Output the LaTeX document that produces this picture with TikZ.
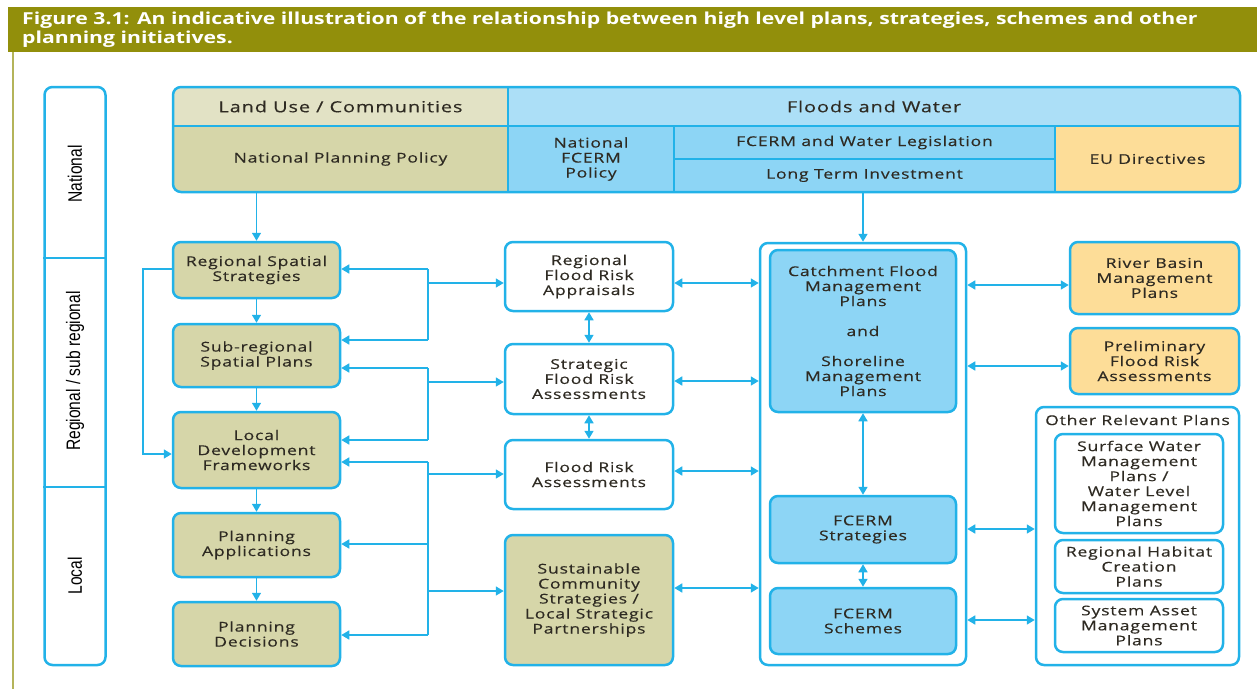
\documentclass[tikz,border=0pt]{standalone}
\usepackage{fontspec}
\usetikzlibrary{arrows.meta,calc}
\newfontfamily\boxfont{Open Sans}[FakeStretch=1.3,LetterSpace=6,FakeBold=0.4]
\newfontfamily\titlefont{Open Sans}[FakeStretch=1.285]
\newfontfamily\lvlfont{Liberation Sans}[FakeStretch=0.8]
\definecolor{cy}{HTML}{22B2E8}
\definecolor{olv}{HTML}{D6D6A9}
\definecolor{lolv}{HTML}{E2E2C5}
\definecolor{lblu}{HTML}{ACDFF7}
\definecolor{mblu}{HTML}{8DD5F5}
\definecolor{orng}{HTML}{FDDD98}
\definecolor{band}{HTML}{928F0B}
\definecolor{bandline}{HTML}{B4B45A}
\definecolor{txt}{HTML}{2E2A22}
\tikzset{
  bx/.style={draw=cy, line width=2.5pt, rounded corners=8pt, align=center, inner sep=0pt, text=txt,
     font=\boxfont\fontsize{13.5}{15}\selectfont},
  olbox/.style={bx, fill=olv},
  whbox/.style={bx, fill=white},
  blbox/.style={bx, fill=mblu},
  orbox/.style={bx, fill=orng},
  cell/.style={draw=cy, line width=2.5pt, align=center, inner sep=0pt, text=txt,
     font=\boxfont\fontsize{13.5}{15}\selectfont},
  hcell/.style={cell, font=\boxfont\fontsize{15.3}{17}\selectfont},
  ln/.style={draw=cy, line width=1.6pt},
  arr/.style={ln, -{Triangle[length=8pt,width=9pt]}},
  darr/.style={ln, {Triangle[length=8pt,width=9pt]}-{Triangle[length=8pt,width=9pt]}},
  lvl/.style={rotate=90, text=black, font=\lvlfont\fontsize{19.5}{20}\selectfont},
}
\begin{document}
\begin{tikzpicture}[x=1pt,y=-1pt]
\useasboundingbox (0,0) rectangle (1260,689);
% title band
\fill[band] (8,7) rectangle (1257,52);
\draw[bandline, line width=2pt] (13,52) -- (13,689);
\node[anchor=north west, inner sep=0, text=white, align=left,
  font=\titlefont\bfseries\fontsize{16.5}{19}\selectfont] (title) at (22,11.5)
  {Figure 3.1: An indicative illustration of the relationship between high level plans, strategies, schemes and other\\planning initiatives.};
% level column
\node[draw=cy, line width=2.5pt, rounded corners=8pt, fill=white, minimum width=61, minimum height=578] (lvlbox) at (75,376) {};
\draw[ln, line width=2.5pt] (lvlbox.west |- 0,258) -- (lvlbox.east |- 0,258);
\draw[ln, line width=2.5pt] (lvlbox.west |- 0,487) -- (lvlbox.east |- 0,487);
\node[lvl] (lnat) at (75,174) {National};
\node[lvl] (lreg) at (75,371) {Regional / sub regional};
\node[lvl] (lloc) at (75,576) {Local};
% header table
\begin{scope}
\clip[rounded corners=8pt] (173,87) rectangle (1240,192);
\node[hcell, fill=lolv, minimum width=335, minimum height=39] (lu) at (340.5,106.5) {Land Use / Communities};
\node[hcell, fill=lblu, minimum width=732, minimum height=39] (fw) at (874,106.5) {Floods and Water};
\node[cell, fill=olv, minimum width=335, minimum height=66] (npp) at (340.5,159) {National Planning Policy};
\node[cell, fill=mblu, minimum width=166, minimum height=66] (nfp) at (591,159) {National\\FCERM\\Policy};
\node[cell, fill=mblu, minimum width=381, minimum height=33] (fwl) at (864.5,142.5) {FCERM and Water Legislation};
\node[cell, fill=mblu, minimum width=381, minimum height=33] (lti) at (864.5,175.5) {Long Term Investment};
\node[cell, fill=orng, minimum width=185, minimum height=66] (eu) at (1147.5,159) {EU Directives};
\end{scope}
\draw[cy, line width=2.5pt, rounded corners=8pt] (173,87) rectangle (1240,192);
% left column
\node[olbox, minimum width=167, minimum height=56] (rss) at (256.5,270) {Regional Spatial\\Strategies};
\node[olbox, minimum width=167, minimum height=63] (srs) at (256.5,355.5) {Sub-regional\\Spatial Plans};
\node[olbox, minimum width=167, minimum height=76] (ldf) at (256.5,450) {Local\\Development\\Frameworks};
\node[olbox, minimum width=167, minimum height=64] (pa) at (256.5,545) {Planning\\Applications};
\node[olbox, minimum width=167, minimum height=64] (pd) at (256.5,634) {Planning\\Decisions};
% middle column
\node[whbox, minimum width=168, minimum height=69] (rfra) at (589,276.5) {Regional\\Flood Risk\\Appraisals};
\node[whbox, minimum width=168, minimum height=70] (sfra) at (589,379) {Strategic\\Flood Risk\\Assessments};
\node[whbox, minimum width=168, minimum height=69] (fra) at (589,474.5) {Flood Risk\\Assessments};
\node[olbox, minimum width=168, minimum height=130] (scs) at (589,600) {Sustainable\\Community\\Strategies /\\Local Strategic\\Partnerships};
% FCERM container
\node[whbox, minimum width=206, minimum height=422] (cont) at (863,454) {};
\node[blbox, minimum width=186, minimum height=162] (cfmp) at (863,331) {Catchment Flood\\Management\\Plans\\[15pt]and\\[15pt]Shoreline\\Management\\Plans};
\node[blbox, minimum width=186, minimum height=67] (fstr) at (863,529.5) {FCERM\\Strategies};
\node[blbox, minimum width=186, minimum height=66] (fsch) at (863,621) {FCERM\\Schemes};
% right column
\node[orbox, minimum width=169, minimum height=72] (rbmp) at (1154.5,278) {River Basin\\Management\\Plans};
\node[orbox, minimum width=169, minimum height=66] (pfra) at (1154.5,361) {Preliminary\\Flood Risk\\Assessments};
\node[whbox, minimum width=203, minimum height=258] (orp) at (1137.5,536) {};
\node[text=txt, inner sep=0, font=\boxfont\fontsize{13.5}{15}\selectfont] (orpt) at (1137.5,420) {Other Relevant Plans};
\node[whbox, minimum width=168, minimum height=99] (swmp) at (1139,483.5) {Surface Water\\Management\\Plans /\\Water Level\\Management\\Plans};
\node[whbox, minimum width=168, minimum height=53] (rhcp) at (1139,566.5) {Regional Habitat\\Creation\\Plans};
\node[whbox, minimum width=168, minimum height=53] (samp) at (1139,625.5) {System Asset\\Management\\Plans};
% bus coordinates
\coordinate (busL) at (143,0);
\coordinate (busM) at (428,0);
% vertical flow left
\draw[arr] (rss.north |- npp.south) -- (rss.north);
\draw[arr] (rss.south) -- (srs.north);
\draw[arr] (srs.south) -- (ldf.north);
\draw[arr] (ldf.south) -- (pa.north);
\draw[arr] (pa.south) -- (pd.north);
% feedback loop
\draw[arr] (rss.west |- 0,269) -- (busL |- 0,269) -- (busL |- 0,454) -- (ldf.west |- 0,454);
% bracket 1
\draw[ln] (busM |- 0,269) -- (busM |- 0,340);
\draw[arr] (busM |- 0,269) -- (rss.east |- 0,269);
\draw[arr] (busM |- 0,340) -- (srs.east |- 0,340);
\draw[arr] (busM |- 0,283) -- (rfra.west |- 0,283);
% bracket 2
\draw[ln] (busM |- 0,368) -- (busM |- 0,440);
\draw[arr] (busM |- 0,368) -- (srs.east |- 0,368);
\draw[arr] (busM |- 0,440) -- (ldf.east |- 0,440);
\draw[arr] (busM |- 0,382) -- (sfra.west |- 0,382);
% bracket 3
\draw[ln] (busM |- 0,462) -- (busM |- 0,635);
\draw[arr] (busM |- 0,462) -- (ldf.east |- 0,462);
\draw[arr] (busM |- 0,544) -- (pa.east |- 0,544);
\draw[arr] (busM |- 0,635) -- (pd.east |- 0,635);
\draw[arr] (busM |- 0,474) -- (fra.west |- 0,474);
\draw[arr] (busM |- 0,591) -- (scs.west |- 0,591);
% middle links
\draw[darr] (rfra.south) -- (sfra.north);
\draw[darr] (sfra.south) -- (fra.north);
\draw[darr] (rfra.east |- 0,283) -- (cont.west |- 0,283);
\draw[darr] (sfra.east |- 0,381) -- (cont.west |- 0,381);
\draw[darr] (fra.east |- 0,471) -- (cont.west |- 0,471);
\draw[darr] (scs.east |- 0,588) -- (cont.west |- 0,588);
% FCERM links
\draw[arr] (cont.north |- lti.south) -- (cont.north);
\draw[darr] (cfmp.south) -- (fstr.north);
\draw[darr] (fstr.south) -- (fsch.north);
% right links
\draw[darr] (cont.east |- 0,285) -- (rbmp.west |- 0,285);
\draw[darr] (cont.east |- 0,366) -- (pfra.west |- 0,366);
\draw[darr] (cont.east |- 0,529) -- (orp.west |- 0,529);
\draw[darr] (cont.east |- 0,620) -- (orp.west |- 0,620);
\end{tikzpicture}
\end{document}
